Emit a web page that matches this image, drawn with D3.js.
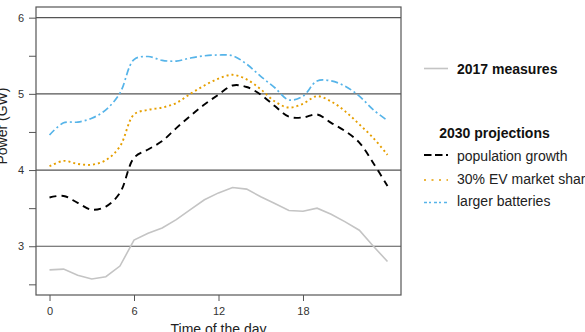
<!DOCTYPE html>
<html><head><meta charset="utf-8">
<script src="https://cdn.jsdelivr.net/npm/d3@7"></script>
<style>
html,body{margin:0;padding:0;background:#fff;}
svg{display:block;font-family:"Liberation Sans",Arial,Helvetica,sans-serif;}
</style></head>
<body>
<svg id="chart" width="585" height="332"></svg>
<script>
const hours = d3.range(0, 25);
const measures2017 = [2.69,2.70,2.62,2.57,2.60,2.74,3.08,3.17,3.24,3.35,3.48,3.61,3.70,3.77,3.75,3.65,3.56,3.47,3.46,3.50,3.42,3.32,3.21,3.00,2.80];
const populationGrowth = [3.64,3.66,3.57,3.48,3.52,3.70,4.16,4.27,4.38,4.55,4.71,4.86,4.99,5.11,5.09,4.99,4.84,4.70,4.69,4.73,4.62,4.51,4.36,4.09,3.79];
const evShare = [4.05,4.12,4.08,4.07,4.13,4.31,4.73,4.79,4.82,4.88,5.00,5.11,5.20,5.25,5.19,5.06,4.90,4.82,4.87,4.97,4.90,4.77,4.60,4.42,4.20];
const largerBatteries = [4.46,4.62,4.63,4.68,4.79,5.01,5.45,5.49,5.44,5.43,5.47,5.50,5.51,5.50,5.39,5.23,5.08,4.92,4.97,5.17,5.17,5.10,4.97,4.79,4.65];
const xTicks = [0, 6, 12, 18];
const yTicks = [2.5, 3, 3.5, 4, 4.5, 5, 5.5, 6];
const yLabeled = [3, 4, 5, 6];
const gridValues = [3, 4, 5, 6];

const svg = d3.select("#chart");
const L = 36, R = 401, T = 7, B = 295;
const x = d3.scaleLinear().domain([-0.96, 24.96]).range([L, R]);
const y = d3.scaleLinear().domain([2.36, 6.14]).range([B, T]);

// grid lines
svg.append("g").selectAll("line").data(gridValues).join("line")
  .attr("x1", L).attr("x2", R)
  .attr("y1", d => y(d)).attr("y2", d => y(d))
  .attr("stroke", "#555").attr("stroke-width", 1.2);

// axes
const yAxis = d3.axisLeft(y).tickValues(yTicks).tickSize(7).tickPadding(5)
  .tickFormat(d => yLabeled.includes(d) ? d3.format("d")(d) : "");
const gy = svg.append("g").attr("transform", `translate(${L},0)`).call(yAxis);
gy.select(".domain").remove();
gy.selectAll(".tick line").attr("stroke", "#555");
gy.selectAll(".tick text").attr("font-size", 11).attr("fill", "#333")
  .attr("font-family", "Liberation Sans, Arial, sans-serif");

const xAxis = d3.axisBottom(x).tickValues(xTicks).tickSize(6).tickPadding(6).tickFormat(d3.format("d"));
const gx = svg.append("g").attr("transform", `translate(0,${B})`).call(xAxis);
gx.select(".domain").remove();
gx.selectAll(".tick line").attr("stroke", "#555");
gx.selectAll(".tick text").attr("font-size", 11).attr("fill", "#333")
  .attr("font-family", "Liberation Sans, Arial, sans-serif");

// panel border
svg.append("rect").attr("x", L).attr("y", T).attr("width", R - L).attr("height", B - T)
  .attr("fill", "none").attr("stroke", "#555").attr("stroke-width", 1.2);

// lines
const smooth = d3.line().x((d, i) => x(hours[i])).y(d => y(d)).curve(d3.curveCatmullRom.alpha(0.5));
const straight = d3.line().x((d, i) => x(hours[i])).y(d => y(d));

svg.append("path").datum(measures2017).attr("d", straight)
  .attr("fill", "none").attr("stroke", "#c4c4c4").attr("stroke-width", 1.6);
svg.append("path").datum(populationGrowth).attr("d", smooth)
  .attr("fill", "none").attr("stroke", "#000").attr("stroke-width", 1.9)
  .attr("stroke-dasharray", "7,5");
svg.append("path").datum(evShare).attr("d", smooth)
  .attr("fill", "none").attr("stroke", "#E69F00").attr("stroke-width", 1.9)
  .attr("stroke-dasharray", "2,3");
svg.append("path").datum(largerBatteries).attr("d", smooth)
  .attr("fill", "none").attr("stroke", "#56B4E9").attr("stroke-width", 1.7)
  .attr("stroke-dasharray", "7,3,2,3");

// axis titles
svg.append("text").attr("x", 218.5).attr("y", 333.5).attr("text-anchor", "middle")
  .attr("font-size", 14).attr("fill", "#222").text("Time of the day");
svg.append("text").attr("transform", "translate(7,126) rotate(-90)").attr("text-anchor", "middle")
  .attr("font-size", 14).attr("fill", "#222").text("Power (GW)");

// legend
const lg = svg.append("g");
lg.append("line").attr("x1", 424).attr("x2", 448).attr("y1", 68.5).attr("y2", 68.5)
  .attr("stroke", "#c4c4c4").attr("stroke-width", 1.6);
lg.append("text").attr("x", 457).attr("y", 73.5).attr("font-size", 14).attr("font-weight", "bold")
  .attr("fill", "#111").text("2017 measures");
lg.append("text").attr("x", 494.5).attr("y", 138).attr("text-anchor", "middle").attr("font-size", 14)
  .attr("font-weight", "bold").attr("fill", "#111").text("2030 projections");

const legendItems = [
  {label: "population growth", color: "#000", dash: "7.5,3.5", w: 1.9, ly: 155, ty: 160.5},
  {label: "30% EV market share", color: "#E69F00", dash: "2,5.5", w: 1.6, ly: 180, ty: 183.5},
  {label: "larger batteries", color: "#56B4E9", dash: "3,2,2,3", w: 1.4, ly: 202.5, ty: 206}
];
legendItems.forEach(it => {
  lg.append("line").attr("x1", 424).attr("x2", 448).attr("y1", it.ly).attr("y2", it.ly)
    .attr("stroke", it.color).attr("stroke-width", it.w).attr("stroke-dasharray", it.dash);
  lg.append("text").attr("x", 457).attr("y", it.ty).attr("font-size", 14).attr("fill", "#222").text(it.label);
});
</script>
</body></html>
